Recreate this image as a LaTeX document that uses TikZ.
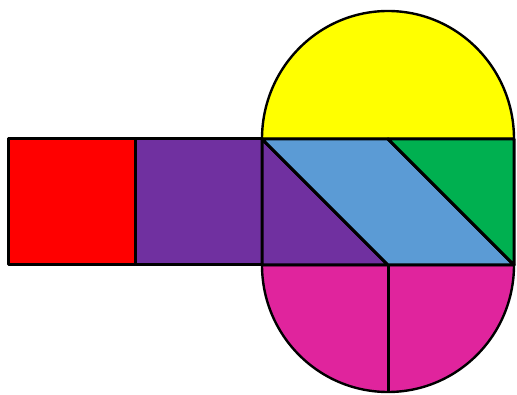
\documentclass[tikz,border=0pt]{standalone}
\definecolor{cred}{HTML}{FF0000}
\definecolor{cpurple}{HTML}{7030A0}
\definecolor{cblue}{HTML}{5B9BD5}
\definecolor{cgreen}{HTML}{00B050}
\definecolor{cyellow}{HTML}{FFFF00}
\definecolor{cmagenta}{HTML}{E0249D}
\begin{document}
\begin{tikzpicture}[x=1pt,y=-1pt,
  piece/.style={draw=black,line width=3pt,line join=round},
  roundpiece/.style={draw=black,line width=2.4pt}]
\useasboundingbox (0,0) rectangle (517,395);
% yellow half disc
\filldraw[roundpiece,fill=cyellow] (262,139) arc[start angle=180,end angle=0,x radius=126,y radius=-128] -- cycle;
% magenta half disc
\filldraw[roundpiece,fill=cmagenta] (262,265) arc[start angle=180,end angle=360,x radius=126,y radius=-127] -- cycle;
\draw[piece] (388,265) -- (388,392);
% squares
\filldraw[piece,fill=cred] (8,139) rectangle (135,265);
\filldraw[piece,fill=cpurple] (135,139) rectangle (262,265);
% triangle and parallelogram
\filldraw[piece,fill=cpurple] (262,139) -- (388,265) -- (262,265) -- cycle;
\filldraw[piece,fill=cblue] (262,139) -- (388,139) -- (514,265) -- (388,265) -- cycle;
\filldraw[piece,fill=cgreen] (388,139) -- (514,139) -- (514,265) -- cycle;
\end{tikzpicture}
\end{document}
